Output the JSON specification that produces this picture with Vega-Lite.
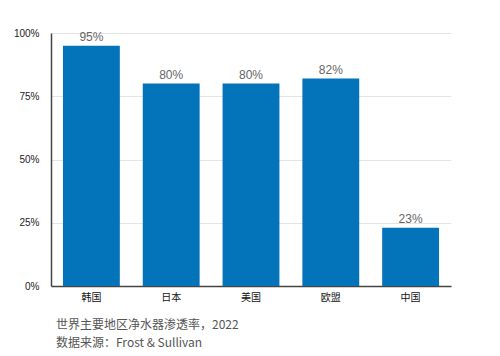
{
  "$schema": "https://vega.github.io/schema/vega-lite/v6.json",
  "width": 400,
  "height": 253,
  "autosize": {"type": "none"},
  "padding": {"left": 51, "top": 33, "right": 49, "bottom": 70},
  "background": "white",
  "config": {"view": {"stroke": null}, "font": "Noto Sans CJK SC"},
  "title": {
    "text": ["世界主要地区净水器渗透率，2022", "数据来源：Frost & Sullivan"],
    "orient": "bottom",
    "anchor": "start",
    "frame": "group",
    "fontSize": 12,
    "fontWeight": "normal",
    "color": "#555555",
    "lineHeight": 18,
    "offset": 18,
    "dx": 5
  },
  "data": {
    "values": [
      {"region": "韩国", "rate": 0.95},
      {"region": "日本", "rate": 0.80},
      {"region": "美国", "rate": 0.80},
      {"region": "欧盟", "rate": 0.82},
      {"region": "中国", "rate": 0.23}
    ]
  },
  "encoding": {
    "x": {
      "field": "region",
      "type": "nominal",
      "sort": null,
      "scale": {"paddingInner": 0.2875, "paddingOuter": 0.15},
      "axis": {
        "title": null,
        "labelAngle": 0,
        "labelFontSize": 10,
        "labelColor": "#111111",
        "labelPadding": 6,
        "ticks": false,
        "domainColor": "#444444",
        "domainWidth": 1.5
      }
    },
    "y": {
      "field": "rate",
      "type": "quantitative",
      "scale": {"domain": [0, 1]},
      "axis": {
        "title": null,
        "format": ".0%",
        "values": [0, 0.25, 0.5, 0.75, 1],
        "labelFontSize": 10,
        "labelColor": "#222222",
        "labelPadding": 12,
        "ticks": false,
        "domainColor": "#444444",
        "domainWidth": 1.5,
        "gridColor": "#e4e4e4",
        "labelFont": "Liberation Sans"
      }
    }
  },
  "layer": [
    {"mark": {"type": "bar", "color": "#0373BA"}},
    {
      "mark": {"type": "text", "dy": -9, "fontSize": 12, "color": "#666666", "font": "Liberation Sans"},
      "encoding": {"text": {"field": "rate", "format": ".0%"}}
    }
  ]
}
